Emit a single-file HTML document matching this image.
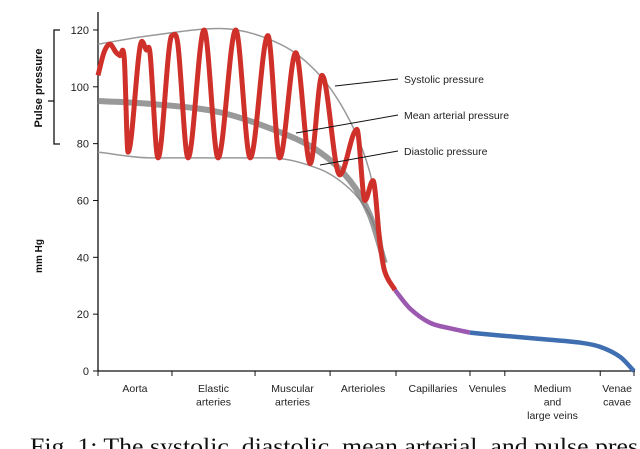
<!DOCTYPE html>
<html><head><meta charset="utf-8"><style>
body{margin:0;background:#fff;}
svg{display:block;font-family:"Liberation Sans",sans-serif;}
</style></head><body>
<svg width="640" height="449" viewBox="0 0 640 449" id="chart">
<g id="axes"></g>
<g id="series"></g>
<g id="labels"></g>
<text x="30" y="454" font-family="Liberation Serif,serif" font-size="23" textLength="608" lengthAdjust="spacingAndGlyphs" fill="#111">Fig. 1: The systolic, diastolic, mean arterial, and pulse pres</text>
</svg>
<script>
// x domain: 0..100 (position along circulation), y domain: mmHg
const yTicks=[0,20,40,60,80,100,120];
const categories=["Aorta","Elastic|arteries","Muscular|arteries","Arterioles","Capillaries","Venules","Medium|and|large veins","Venae|cavae"];
const catBounds=[0,13.8,29.3,43.3,55.6,69.4,75.9,93.7,100];
const wave=[[0,104],[1.1,112],[2.2,115],[3.4,112],[4.1,111],[4.9,110],[5.6,77],[8.2,116],[9,113],[9.7,112],[11.2,75],[13.8,118],[14.9,115],[16.8,75],[19.8,120],[22.4,75],[25.7,120],[28.4,75],[31.7,118],[33.9,75],[36.9,112],[39.6,73],[41.8,104],[45.1,69],[48.3,85],[49.8,60],[51.3,67],[52.6,45],[53.5,35],[55.4,28.5]];
const capillary=[[55.4,28.5],[58.2,22],[61.9,17],[65.7,15],[69.4,13.5]];
const venous=[[69.4,13.5],[75,12.5],[84.3,11],[89.9,10],[93.7,8.5],[97.4,5],[100,0]];
const systolic=[[0,115],[9.7,118],[22.8,120.5],[34,115],[41.4,104],[47,88],[50.7,70],[52.6,50],[53.5,38]];
const diastolic=[[0,77],[9.7,75],[22.8,75],[32.1,75],[41.4,71],[47,64],[50.7,55],[52.6,45],[53.5,38]];
const mean=[[0,95],[9.7,94],[22.8,91],[34,84],[41.4,77],[47,67],[50.7,55],[53.5,38]];

const NS="http://www.w3.org/2000/svg";
const X0=98,X1=634,Y0=371,PPU=2.842;
const sx=u=>X0+(X1-X0)*u/100, sy=v=>Y0-v*PPU;
function mk(tag,attrs,parent){const e=document.createElementNS(NS,tag);for(const k in attrs)e.setAttribute(k,attrs[k]);parent.appendChild(e);return e;}
function smooth(pts){const p=pts.map(d=>[sx(d[0]),sy(d[1])]);const n=p.length;
 const tg=p.map((b,i)=>{const a=p[i-1]||b,c=p[i+1]||b;
  if(i>0&&i<n-1&&((b[1]-a[1])*(c[1]-b[1])<=0))return 0;
  return (c[1]-a[1])/((c[0]-a[0])||1);});
 let s="M"+p[0][0]+","+p[0][1];
 for(let i=0;i<n-1;i++){const b=p[i],c=p[i+1],dx=(c[0]-b[0])/3;
  s+=" C"+(b[0]+dx)+","+(b[1]+tg[i]*dx)+" "+(c[0]-dx)+","+(c[1]-tg[i+1]*dx)+" "+c[0]+","+c[1];}
 return s;}
const axes=document.getElementById('axes'),ser=document.getElementById('series'),lab=document.getElementById('labels');
let e;
e=mk('line',{x1:X0,y1:12,x2:X0,y2:Y0,stroke:'#111','stroke-width':1.3},axes);

e=mk('line',{x1:X0,y1:Y0,x2:X1+1,y2:Y0,stroke:'#111','stroke-width':1.3},axes);

yTicks.forEach(t=>{
 mk('line',{x1:X0-5,y1:sy(t),x2:X0,y2:sy(t),stroke:'#111'},axes);
 e=mk('text',{x:X0-9,y:sy(t)+4,'text-anchor':'end','font-size':11,fill:'#222'},axes);
 e.textContent=t;
 
});
catBounds.forEach(b=>{mk('line',{x1:sx(b),y1:Y0,x2:sx(b),y2:Y0+5,stroke:'#111'},axes);});
categories.forEach((c,i)=>{
 const cx=(sx(catBounds[i])+sx(catBounds[i+1]))/2;
 c.split('|').forEach((ln,j)=>{
  e=mk('text',{x:cx,y:392+j*13.5,'text-anchor':'middle','font-size':10.5,fill:'#222'},axes);
  e.textContent=ln;
  
 });
});
e=mk('path',{d:smooth(systolic),fill:'none',stroke:'#999','stroke-width':1.5},ser);

e=mk('path',{d:smooth(diastolic),fill:'none',stroke:'#999','stroke-width':1.5},ser);

e=mk('path',{d:smooth(mean),fill:'none',stroke:'#777','stroke-width':6,'stroke-opacity':0.75},ser);

e=mk('path',{d:smooth(wave),fill:'none',stroke:'#d0302a','stroke-width':5,'stroke-linejoin':'round'},ser);

e=mk('path',{d:smooth(capillary),fill:'none',stroke:'#9b59b0','stroke-width':4.5},ser);

e=mk('path',{d:smooth(venous),fill:'none',stroke:'#3f6fb0','stroke-width':4.5},ser);

const ann=[["Systolic pressure",335,86,82],["Mean arterial pressure",296,133,118],["Diastolic pressure",320,165,154]];
ann.forEach(a=>{
 mk('line',{x1:a[1],y1:a[2],x2:398,y2:a[3]-3,stroke:'#111','stroke-width':1},lab);
 e=mk('text',{x:404,y:a[3]+1,'font-size':10.5,fill:'#222'},lab);
 e.textContent=a[0];
 
});
e=mk('path',{d:"M60,30 H54 V144 H60 M54,101 H48",fill:'none',stroke:'#111','stroke-width':1.3},lab);

e=mk('text',{x:0,y:0,transform:'translate(42,88) rotate(-90)','text-anchor':'middle','font-size':11,'font-weight':'bold',fill:'#111'},lab);
e.textContent="Pulse pressure";

e=mk('text',{x:0,y:0,transform:'translate(42,256) rotate(-90)','text-anchor':'middle','font-size':10,'font-weight':'bold',fill:'#111'},lab);
e.textContent="mm Hg";

</script>
</body></html>
